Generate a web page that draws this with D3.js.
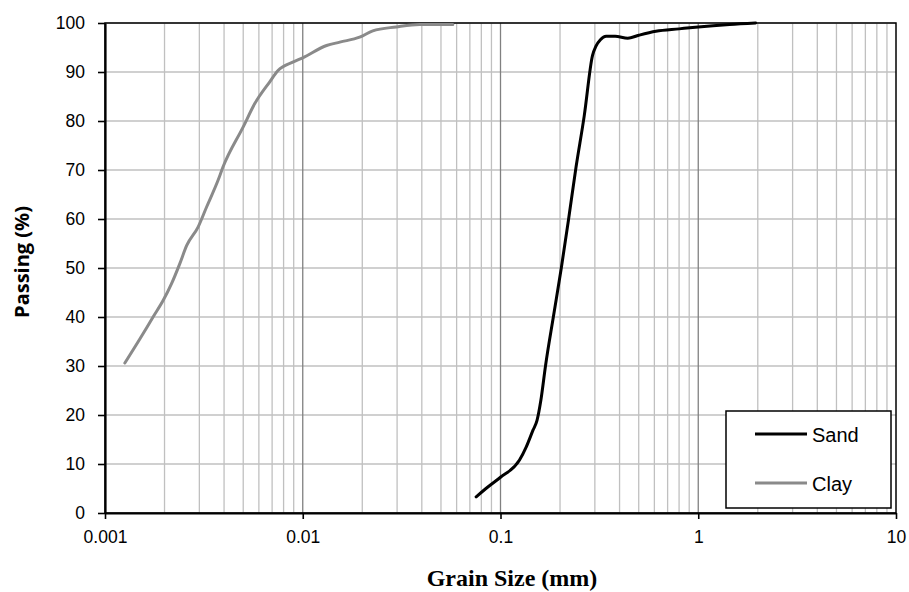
<!DOCTYPE html>
<html>
<head>
<meta charset="utf-8">
<script src="https://cdn.jsdelivr.net/npm/d3@7"></script>
<style>
  body { margin: 0; background: #fff; }
  svg text { font-family: "Liberation Sans", Arial, sans-serif; }
</style>
</head>
<body>
<div id="chart"></div>
<script>
(function() {

    // grain size (mm) and percent passing
    const sandSize = [0.0753, 0.0863, 0.1, 0.1248, 0.135, 0.146, 0.153, 0.160, 0.169, 0.185, 0.203, 0.221, 0.241, 0.265, 0.292, 0.304, 0.320, 0.342, 0.38, 0.44, 0.50, 0.611, 0.80, 1.0, 1.44, 1.95]
    const sandPass = [3.3, 5.3, 7.3, 10.8, 13.5, 16.9, 18.9, 23.0, 30.1, 40.0, 50.0, 60.0, 70.6, 81.0, 93.4, 95.3, 96.6, 97.3, 97.3, 96.9, 97.5, 98.3, 98.8, 99.2, 99.7, 100]

    const claySize = [0.00126, 0.0015, 0.00175, 0.00197, 0.00217, 0.00239, 0.00259, 0.00296, 0.00326, 0.00373, 0.00395, 0.0050, 0.00573, 0.00681, 0.0075, 0.0089, 0.010, 0.0132, 0.0154, 0.0194, 0.0226, 0.0297, 0.039, 0.0574]
    const clayPass = [30.6, 35.5, 40.0, 43.4, 46.8, 50.9, 54.6, 58.4, 62.4, 67.9, 70.6, 78.8, 83.6, 88.0, 90.3, 92.0, 92.9, 95.4, 96.1, 97.1, 98.4, 99.2, 99.7, 99.7]

    const xTicks = [0.001, 0.01, 0.1, 1, 10]
    const yTicks = [0, 10, 20, 30, 40, 50, 60, 70, 80, 90, 100]

    const series = [
        {name: "Sand", color: "#000000", x: sandSize, y: sandPass},
        {name: "Clay", color: "#8a8a8a", x: claySize, y: clayPass}
    ]

    const margin = {top: 23, right: 13, bottom: 79, left: 105}
    const W = 909, H = 592
    let width = W - margin.left - margin.right
    let height = H - margin.top - margin.bottom

    let svg = d3.select("#chart").append("svg")
                .attr("width", W)
                .attr("height", H)

    let g = svg.append("g")
                .attr("transform", "translate(" + margin.left + "," + margin.top + ")")

    let xScale = d3.scaleLog().domain([0.001, 10]).range([0, width])
    let yScale = d3.scaleLinear().domain([0, 100]).range([height, 0])

    // minor vertical grid (2..9 within each decade)
    let minor = []
    for (let e = -3; e < 1; e++) {
        for (let m = 2; m <= 9; m++) minor.push(m * Math.pow(10, e))
    }
    g.append("g").selectAll("line").data(minor).join("line")
        .attr("x1", d => xScale(d)).attr("x2", d => xScale(d))
        .attr("y1", 0).attr("y2", height)
        .attr("stroke", "#c0c0c0").attr("stroke-width", 1.3)

    // horizontal grid
    g.append("g").selectAll("line").data(yTicks).join("line")
        .attr("x1", 0).attr("x2", width)
        .attr("y1", d => yScale(d)).attr("y2", d => yScale(d))
        .attr("stroke", "#c0c0c0").attr("stroke-width", 1.3)

    // major decade lines
    g.append("g").selectAll("line").data(xTicks.slice(1, -1)).join("line")
        .attr("x1", d => xScale(d)).attr("x2", d => xScale(d))
        .attr("y1", 0).attr("y2", height)
        .attr("stroke", "#808080").attr("stroke-width", 1.3)

    // frame
    g.append("rect")
        .attr("x", 0).attr("y", 0).attr("width", width).attr("height", height)
        .attr("fill", "none").attr("stroke", "#000").attr("stroke-width", 1.5)

    // axes
    let xAxis = g.append("g")
        .attr("transform", "translate(0," + height + ")")
        .call(d3.axisBottom(xScale).tickValues(xTicks).tickFormat(d3.format("~g")).tickSizeInner(6).tickSizeOuter(0).tickPadding(12))
    let yAxis = g.append("g")
        .call(d3.axisLeft(yScale).tickValues(yTicks).tickSizeInner(7).tickSizeOuter(0).tickPadding(13))

    ;[xAxis, yAxis].forEach(a => {
        a.select(".domain").attr("stroke", "#000").attr("stroke-width", 2.2)
        a.selectAll(".tick line").attr("stroke", "#000").attr("stroke-width", 1.6)
        a.selectAll(".tick text").attr("fill", "#000")
            .style("font-family", "'Liberation Sans', Arial, sans-serif")
            .style("font-size", "17.5px")
    })

    // curves
    let line = d3.line()
        .x(d => xScale(d[0]))
        .y(d => yScale(d[1]))
        .curve(d3.curveMonotoneX)

    g.append("g").selectAll("path").data(series.slice().reverse()).join("path")
        .attr("d", s => line(s.x.map((v, i) => [v, s.y[i]])))
        .attr("fill", "none")
        .attr("stroke", s => s.color)
        .attr("stroke-width", 3)
        .attr("stroke-linejoin", "round")
        .attr("stroke-linecap", "round")

    // legend
    let legend = svg.append("g").attr("transform", "translate(726,411)")
    legend.append("rect")
        .attr("width", 165).attr("height", 97)
        .attr("fill", "#fff").attr("stroke", "#000").attr("stroke-width", 1.5)
    let items = legend.selectAll("g.item").data(series).join("g")
        .attr("class", "item")
        .attr("transform", (d, i) => "translate(0," + (23 + i * 49) + ")")
    items.append("line")
        .attr("x1", 29).attr("x2", 81).attr("y1", 0).attr("y2", 0)
        .attr("stroke", d => d.color).attr("stroke-width", 3)
    items.append("text")
        .attr("x", 86).attr("y", 8)
        .style("font-size", "20px")
        .text(d => d.name)

    // axis titles
    svg.append("text")
        .attr("transform", "translate(29," + 262 + ") rotate(-90)")
        .attr("text-anchor", "middle")
        .style("font-family", "'Open Sans', 'Noto Sans', sans-serif")
        .style("font-weight", "bold")
        .style("font-size", "20px")
        .text("Passing (%)")

    svg.append("text")
        .attr("x", 512).attr("y", 586)
        .attr("text-anchor", "middle")
        .style("font-family", "'Liberation Serif', 'Times New Roman', serif")
        .style("font-weight", "bold")
        .style("font-size", "24px")
        .text("Grain Size (mm)")

})();
</script>
</body>
</html>
